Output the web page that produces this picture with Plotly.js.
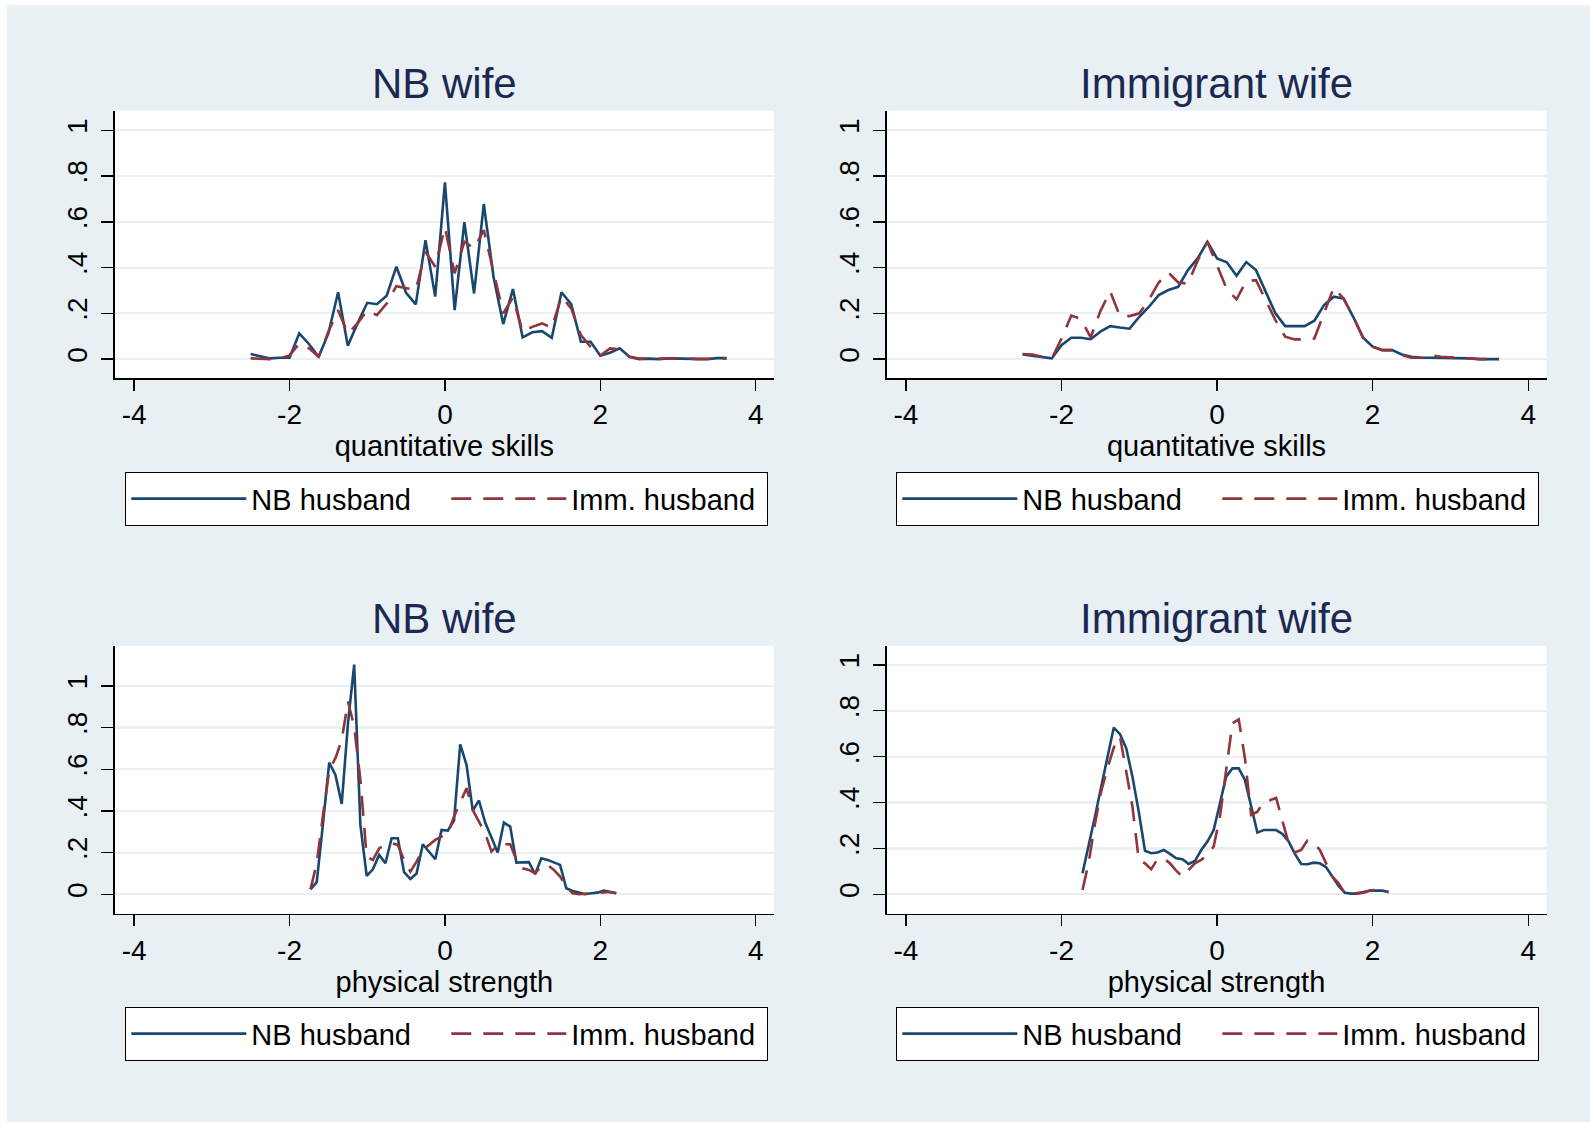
<!DOCTYPE html>
<html>
<head>
<meta charset="utf-8">
<script src="https://cdn.plot.ly/plotly-3.0.1.min.js"></script>
<style>
html,body{margin:0;padding:0;background:#ffffff;width:1590px;height:1122px;overflow:hidden}
#chart{position:absolute;left:7px;top:5px;width:1583px;height:1117px}
</style>
</head>
<body>
<div id="chart"></div>
<script>
// ---------------- DATA ----------------
const panelTitles = ['NB wife', 'Immigrant wife', 'NB wife', 'Immigrant wife'];
const axisTitles = ['quantitative skills', 'quantitative skills', 'physical strength', 'physical strength'];
const seriesNames = ['NB husband', 'Imm. husband'];

const xTickVals = [-4, -2, 0, 2, 4];
const xTickText = ['-4', '-2', '0', '2', '4'];
const yTickVals = [0, 0.2, 0.4, 0.6, 0.8, 1];
const yTickText = ['0', '.2', '.4', '.6', '.8', '1'];

const quantX = [-2.5,-2.375,-2.25,-2.125,-2,-1.875,-1.75,-1.625,-1.5,-1.375,-1.25,-1.125,-1,-0.875,-0.75,-0.625,-0.5,-0.375,-0.25,-0.125,0,0.125,0.25,0.375,0.5,0.625,0.75,0.875,1,1.125,1.25,1.375,1.5,1.625,1.75,1.875,2,2.125,2.25,2.375,2.5,2.625,2.75,2.875,3,3.125,3.25,3.375,3.5,3.625];

const physX = [-1.730,-1.650,-1.569,-1.489,-1.409,-1.328,-1.248,-1.168,-1.088,-1.007,-0.927,-0.847,-0.766,-0.686,-0.606,-0.526,-0.445,-0.365,-0.285,-0.204,-0.124,-0.044,0.037,0.117,0.197,0.278,0.358,0.438,0.518,0.599,0.679,0.759,0.840,0.920,1.000,1.081,1.161,1.241,1.321,1.402,1.482,1.562,1.643,1.723,1.803,1.884,1.964,2.044,2.124,2.205];

// Quantitative skills, NB wife
const quantNbWifeNbHusband = [0.022,0.012,0.003,0.006,0.006,0.112,0.066,0.010,0.112,0.292,0.058,0.156,0.246,0.240,0.277,0.404,0.290,0.239,0.520,0.273,0.773,0.214,0.599,0.287,0.678,0.360,0.153,0.306,0.095,0.117,0.122,0.093,0.292,0.240,0.076,0.076,0.015,0.028,0.047,0.010,0.000,0.002,0.000,0.003,0.003,0.000,0.000,0.000,0.004,0.004];
const quantNbWifeImmHusband = [0.003,0.001,0.000,0.004,0.016,0.068,0.047,0.010,0.120,0.214,0.112,0.156,0.214,0.192,0.243,0.319,0.309,0.302,0.469,0.404,0.576,0.375,0.513,0.484,0.564,0.375,0.200,0.270,0.120,0.141,0.156,0.137,0.273,0.222,0.105,0.054,0.015,0.047,0.042,0.010,0.002,0.003,0.003,0.004,0.003,0.002,0.000,0.000,0.003,0.003];

// Quantitative skills, Immigrant wife
const quantImmWifeNbHusband = [0.020,0.015,0.010,0.003,0.061,0.093,0.093,0.087,0.120,0.144,0.138,0.133,0.185,0.229,0.280,0.302,0.316,0.389,0.440,0.513,0.440,0.423,0.364,0.424,0.389,0.294,0.200,0.144,0.144,0.144,0.168,0.236,0.273,0.265,0.185,0.095,0.054,0.039,0.039,0.020,0.010,0.006,0.006,0.006,0.006,0.003,0.003,0.000,0.000,0.000];
const quantImmWifeImmHusband = [0.022,0.020,0.010,0.003,0.090,0.190,0.175,0.095,0.210,0.297,0.188,0.188,0.200,0.260,0.335,0.378,0.335,0.330,0.430,0.513,0.410,0.306,0.261,0.341,0.345,0.258,0.170,0.098,0.086,0.086,0.090,0.200,0.313,0.265,0.185,0.095,0.054,0.039,0.039,0.017,0.006,0.006,0.016,0.010,0.007,0.007,0.004,0.000,0.000,0.000];

// Physical strength, NB wife
const physNbWifeNbHusband = [0.024,0.058,0.340,0.632,0.573,0.434,0.820,1.102,0.333,0.088,0.120,0.189,0.149,0.269,0.269,0.106,0.074,0.100,0.240,0.205,0.168,0.309,0.306,0.354,0.720,0.621,0.402,0.450,0.344,0.272,0.200,0.344,0.325,0.152,0.154,0.154,0.096,0.173,0.165,0.154,0.141,0.029,0.016,0.008,0.000,0.005,0.008,0.018,0.011,0.005];
const physNbWifeImmHusband = [0.024,0.149,0.380,0.597,0.653,0.741,0.925,0.805,0.549,0.180,0.165,0.220,0.237,0.245,0.237,0.165,0.109,0.157,0.213,0.237,0.261,0.277,0.290,0.373,0.437,0.509,0.405,0.349,0.293,0.205,0.237,0.240,0.240,0.165,0.125,0.117,0.100,0.136,0.141,0.117,0.085,0.037,0.005,0.000,0.002,0.003,0.008,0.010,0.011,0.005];

// Physical strength, Immigrant wife
const physImmWifeNbHusband = [0.092,0.210,0.340,0.470,0.600,0.727,0.698,0.637,0.513,0.360,0.190,0.179,0.182,0.193,0.176,0.157,0.153,0.132,0.145,0.193,0.230,0.280,0.397,0.513,0.549,0.549,0.499,0.382,0.269,0.280,0.280,0.280,0.263,0.230,0.176,0.132,0.131,0.138,0.135,0.118,0.077,0.036,0.007,0.003,0.003,0.009,0.016,0.016,0.016,0.010];
const physImmWifeImmHusband = [0.019,0.140,0.310,0.450,0.550,0.640,0.687,0.542,0.382,0.150,0.135,0.109,0.153,0.156,0.135,0.103,0.077,0.106,0.135,0.150,0.172,0.208,0.339,0.542,0.746,0.763,0.593,0.346,0.360,0.404,0.410,0.420,0.317,0.222,0.182,0.193,0.234,0.225,0.193,0.135,0.077,0.048,0.004,0.003,0.004,0.007,0.016,0.019,0.017,0.009];

// ---------------- STYLE / LAYOUT ----------------
const FONT = 'Liberation Sans, Arial, Helvetica, sans-serif';
const BG = 'rgb(232,240,243)';
const NAVY = 'rgb(26,71,111)';
const MAROON = 'rgb(144,53,59)';
const TITLE_COLOR = 'rgb(28,40,82)';
const W = 1583, H = 1117;
const px = v => (v - 7) / W;
const py = v => 1 - (v - 5) / H;

const panels = [
  {x: quantX, nb: quantNbWifeNbHusband, imm: quantNbWifeImmHusband, left: 114.7, right: 774, top: 110.7, bottom: 378.3, yr: [-0.084, 1.086]},
  {x: quantX, nb: quantImmWifeNbHusband, imm: quantImmWifeImmHusband, left: 886.5, right: 1546.5, top: 110.7, bottom: 378.3, yr: [-0.084, 1.086]},
  {x: physX, nb: physNbWifeNbHusband, imm: physNbWifeImmHusband, left: 114.7, right: 774, top: 645.7, bottom: 914, yr: [-0.0946, 1.193]},
  {x: physX, nb: physImmWifeNbHusband, imm: physImmWifeImmHusband, left: 886.5, right: 1546.5, top: 645.7, bottom: 914, yr: [-0.086, 1.084]}
];
const legendBoxes = [
  {left: 125, top: 472},
  {left: 896, top: 472},
  {left: 125, top: 1007},
  {left: 896, top: 1007}
];

const traces = [];
const layout = {
  width: W, height: H,
  margin: {l: 0, r: 0, t: 0, b: 0},
  paper_bgcolor: BG,
  plot_bgcolor: '#ffffff',
  font: {family: FONT, color: '#000'},
  showlegend: true,
  annotations: []
};

panels.forEach((p, i) => {
  const n = i + 1;
  const xa = 'x' + (n === 1 ? '' : n), ya = 'y' + (n === 1 ? '' : n);
  const legId = n === 1 ? 'legend' : 'legend' + n;
  traces.push({
    type: 'scatter', mode: 'lines', x: p.x, y: p.nb, name: seriesNames[0],
    xaxis: xa, yaxis: ya, legend: legId,
    line: {color: NAVY, width: 2.6}, hoverinfo: 'x+y'
  });
  traces.push({
    type: 'scatter', mode: 'lines', x: p.x, y: p.imm, name: seriesNames[1],
    xaxis: xa, yaxis: ya, legend: legId,
    line: {color: MAROON, width: 2.6, dash: '20px,12px'}, hoverinfo: 'x+y'
  });
  const xKey = 'xaxis' + (n === 1 ? '' : n), yKey = 'yaxis' + (n === 1 ? '' : n);
  layout[xKey] = {
    domain: [px(p.left), px(p.right)], anchor: ya,
    range: [-4.25, 4.235], tickmode: 'array', tickvals: xTickVals, ticktext: xTickText,
    ticks: 'outside', ticklen: 11, tickwidth: 1.3, tickcolor: '#000',
    showline: true, linecolor: '#000', linewidth: 1.3, mirror: false,
    showgrid: false, zeroline: false, fixedrange: true,
    tickfont: {size: 28, family: FONT, color: '#000'}, ticklabelstandoff: 0,
    title: {text: axisTitles[i], font: {size: 29, family: FONT, color: '#000'}, standoff: 0}
  };
  layout[yKey] = {
    domain: [py(p.bottom), py(p.top)], anchor: xa,
    range: p.yr, tickmode: 'array', tickvals: yTickVals, ticktext: yTickText,
    tickangle: -90,
    ticks: 'outside', ticklen: 12, tickwidth: 1.3, tickcolor: '#000',
    showline: true, linecolor: '#000', linewidth: 1.3, mirror: false,
    showgrid: true, gridcolor: BG, gridwidth: 2.2, zeroline: false, fixedrange: true,
    tickfont: {size: 28, family: FONT, color: '#000'}, ticklabelstandoff: 3
  };
  const lb = legendBoxes[i];
  layout[legId] = {
    x: px(lb.left), y: py(lb.top), xanchor: 'left', yanchor: 'top',
    orientation: 'h', bgcolor: '#ffffff', bordercolor: '#000', borderwidth: 1.3,
    font: {size: 29, family: FONT, color: '#000'},
    itemwidth: 115, entrywidth: 190, traceorder: 'normal',
    itemclick: false, itemdoubleclick: false
  };
  layout.annotations.push({
    text: panelTitles[i], xref: 'paper', yref: 'paper',
    x: (px(p.left) + px(p.right)) / 2, y: py(p.top - 27.5),
    xanchor: 'center', yanchor: 'middle', showarrow: false,
    font: {size: 42, family: FONT, color: TITLE_COLOR}
  });
});

Plotly.newPlot('chart', traces, layout, {displayModeBar: false, staticPlot: true});
</script>
</body>
</html>
